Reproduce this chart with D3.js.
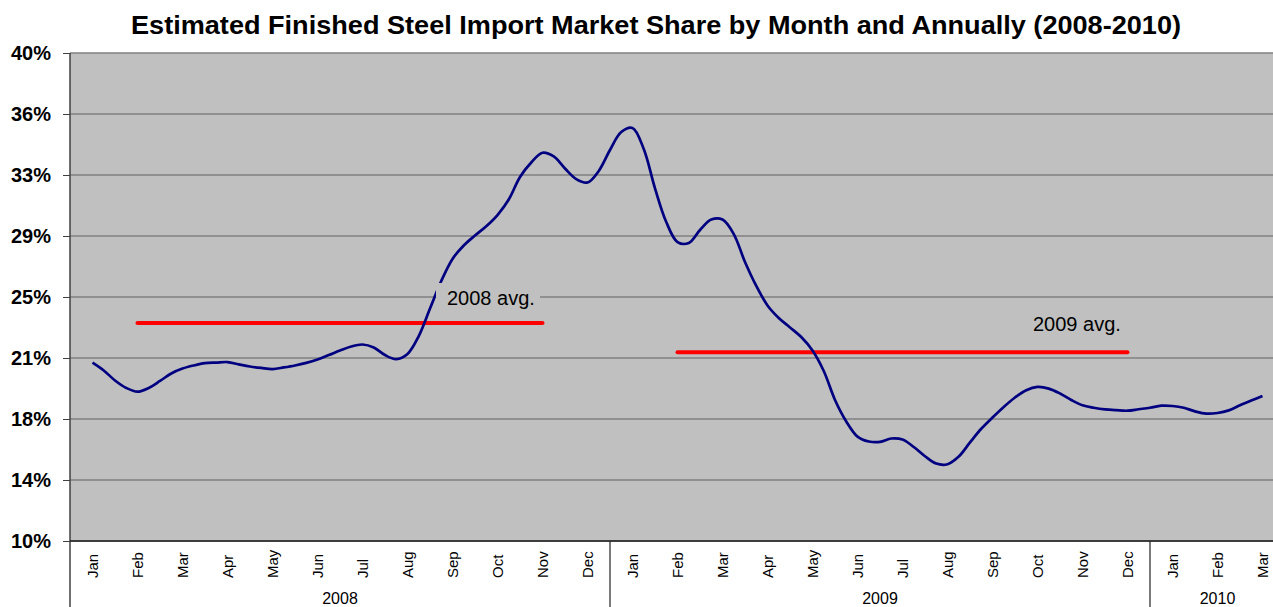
<!DOCTYPE html>
<html>
<head>
<meta charset="utf-8">
<script src="https://cdn.jsdelivr.net/npm/d3@7"></script>
<style>
  html, body { margin: 0; padding: 0; background: #fff; }
  svg { display: block; font-family: Arial, 'Liberation Sans', sans-serif; }
</style>
</head>
<body>
<div id="chart"></div>
<script>
// month categories, Jan 2008 .. Mar 2010
const months = ['Jan','Feb','Mar','Apr','May','Jun','Jul','Aug','Sep','Oct','Nov','Dec',
  'Jan','Feb','Mar','Apr','May','Jun','Jul','Aug','Sep','Oct','Nov','Dec',
  'Jan','Feb','Mar'];
const years = ['2008', '2009', '2010'];
const yearMonths = [12, 12, 3];

// import share (%), sampled four times a month from Jan 2008 to Mar 2010
const share = [20.96,20.48,19.87,19.41,19.18,19.41,19.84,20.30,20.60,20.79,20.93,20.97,
  21.00,20.86,20.73,20.64,20.57,20.67,20.79,20.95,21.16,21.43,21.71,21.96,22.08,21.90,
  21.43,21.18,21.50,22.60,24.29,25.98,27.34,28.17,28.78,29.35,30.04,30.99,32.38,33.27,
  33.87,33.64,32.90,32.25,32.04,32.75,34.04,35.14,35.39,34.10,31.68,29.61,28.38,28.32,
  29.12,29.76,29.76,28.87,27.15,25.68,24.48,23.71,23.13,22.54,21.71,20.45,18.67,17.35,
  16.42,16.12,16.09,16.30,16.24,15.78,15.21,14.76,14.72,15.19,16.06,16.90,17.59,18.24,
  18.82,19.27,19.47,19.37,19.07,18.67,18.34,18.19,18.09,18.04,18.01,18.10,18.19,18.32,
  18.30,18.19,17.97,17.83,17.87,18.03,18.34,18.63,18.91];

// annual averages and the months they span
const avgLabels = ['2008 avg.', '2009 avg.'];
const avgValues = [23.4, 21.6];
const avgFrom = [1, 13];
const avgTo = [10, 23];

const yTicks = [10, 13.75, 17.5, 21.25, 25, 28.75, 32.5, 36.25, 40];
const yTickLabels = ['10%','14%','18%','21%','25%','29%','33%','36%','40%'];

const width = 1273;
const height = 607;
const plotLeft = 70, plotTop = 53, plotBottom = 541, plotRight = 1285;

const svg = d3.select('#chart').append('svg')
  .attr('width', width)
  .attr('height', height);

const x = d3.scaleBand()
  .domain(d3.range(months.length))
  .range([plotLeft, plotRight]);
const mid = i => x(i) + x.bandwidth() / 2;

const t = d3.scaleLinear()
  .domain([0, share.length - 1])
  .range([mid(0), mid(months.length - 1)]);

const y = d3.scaleLinear()
  .domain([10, 40])
  .range([plotBottom, plotTop]);

// plot area
svg.append('rect')
  .attr('x', plotLeft).attr('y', plotTop)
  .attr('width', plotRight - plotLeft).attr('height', plotBottom - plotTop)
  .attr('fill', '#c0c0c0');

svg.append('g')
  .selectAll('line')
  .data(yTicks)
  .enter().append('line')
    .attr('x1', plotLeft).attr('x2', plotRight)
    .attr('y1', d => y(d)).attr('y2', d => y(d))
    .attr('stroke', '#808080')
    .attr('stroke-width', 1.5);

// title
svg.append('text')
  .attr('x', 656).attr('y', 34)
  .attr('text-anchor', 'middle')
  .attr('font-size', 25)
  .attr('font-weight', 'bold')
  .attr('textLength', 1050)
  .attr('lengthAdjust', 'spacingAndGlyphs')
  .text('Estimated Finished Steel Import Market Share by Month and Annually (2008-2010)');

// y axis
const yAxis = svg.append('g')
  .attr('transform', `translate(${plotLeft},0)`)
  .call(d3.axisLeft(y).tickValues(yTicks).tickFormat((d, i) => yTickLabels[i]).tickSize(7).tickPadding(12));
yAxis.select('.domain').remove();
yAxis.selectAll('.tick line').attr('stroke', '#404040');
yAxis.selectAll('.tick text')
  .attr('font-size', 20)
  .attr('font-weight', 'bold')
  .attr('font-family', null)
  .attr('fill', '#000');

svg.append('line')
  .attr('x1', plotLeft).attr('x2', plotLeft)
  .attr('y1', plotTop).attr('y2', height)
  .attr('stroke', '#404040').attr('stroke-width', 1.5);

// x axis
const xAxis = svg.append('g')
  .attr('transform', `translate(0,${plotBottom})`)
  .call(d3.axisBottom(x).tickSize(0).tickFormat(i => months[i]));
xAxis.select('.domain').remove();
xAxis.selectAll('.tick text')
  .attr('font-size', 15)
  .attr('font-family', null)
  .attr('fill', '#000')
  .attr('text-anchor', 'start')
  .attr('transform', 'rotate(-90)')
  .attr('x', -37)
  .attr('y', 0)
  .attr('dy', '0.35em');

svg.append('line')
  .attr('x1', plotLeft).attr('x2', plotRight)
  .attr('y1', plotBottom).attr('y2', plotBottom)
  .attr('stroke', '#202020').attr('stroke-width', 1.5);

// year groups
let start = 0;
years.forEach((yr, i) => {
  const end = start + yearMonths[i];
  const x0 = x(start);
  const x1 = x(end - 1) + x.bandwidth();
  if (i > 0) {
    svg.append('line')
      .attr('x1', x0).attr('x2', x0)
      .attr('y1', plotBottom).attr('y2', height)
      .attr('stroke', '#202020').attr('stroke-width', 1.2);
  }
  svg.append('text')
    .attr('x', (x0 + x1) / 2).attr('y', 604)
    .attr('text-anchor', 'middle')
    .attr('font-size', 16)
    .text(yr);
  start = end;
});

// average lines
avgValues.forEach((v, i) => {
  svg.append('line')
    .attr('x1', mid(avgFrom[i])).attr('x2', mid(avgTo[i]))
    .attr('y1', y(v)).attr('y2', y(v))
    .attr('stroke', '#ff0000')
    .attr('stroke-width', 4)
    .attr('stroke-linecap', 'round');
});

// share line
const line = d3.line()
  .x((d, i) => t(i))
  .y(d => y(d))
  .curve(d3.curveCatmullRom.alpha(0.5));

svg.append('path')
  .datum(share)
  .attr('d', line)
  .attr('fill', 'none')
  .attr('stroke', '#000080')
  .attr('stroke-width', 2.7);

// avg labels, with plot-coloured boxes in front of the line
const labelPos = [[436, 283, 104, 30, 447, 305], [1030, 312, 96, 26, 1033, 331]];
avgLabels.forEach((txt, i) => {
  const p = labelPos[i];
  svg.append('rect')
    .attr('x', p[0]).attr('y', p[1])
    .attr('width', p[2]).attr('height', p[3])
    .attr('fill', '#c0c0c0');
  svg.append('text')
    .attr('x', p[4]).attr('y', p[5])
    .attr('font-size', 20)
    .text(txt);
});
</script>
</body>
</html>
